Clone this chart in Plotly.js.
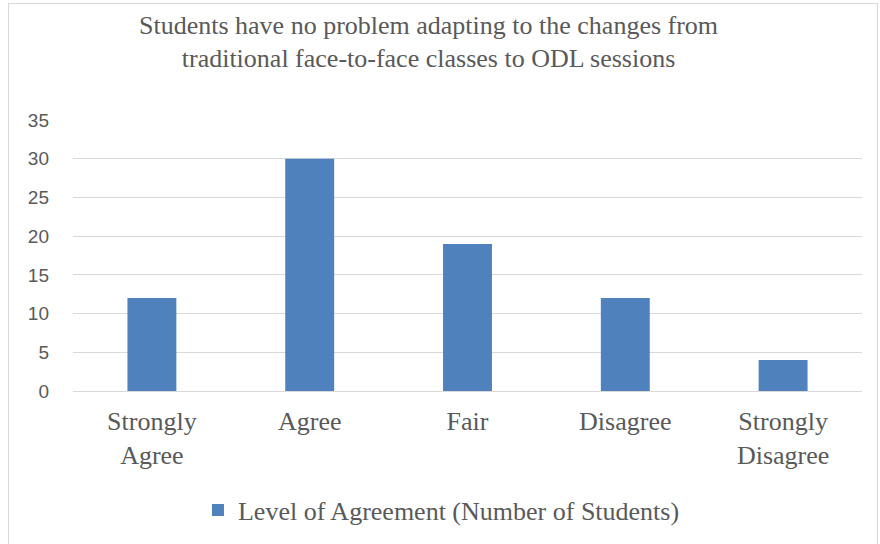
<!DOCTYPE html>
<html>
<head>
<meta charset="utf-8">
<script src="https://cdn.plot.ly/plotly-3.0.1.min.js"></script>
<style>
html,body{margin:0;padding:0;background:#fff;}
#frame{position:absolute;left:8px;top:3px;width:870px;height:560px;border:1px solid #d9d9d9;box-sizing:border-box;}
#chart{position:absolute;left:0;top:0;width:880px;height:544px;}
</style>
</head>
<body>
<div id="frame"></div>
<div id="chart"></div>
<script>
const categories = ["Strongly<br>Agree", "Agree", "Fair", "Disagree", "Strongly<br>Disagree"];
const values = [12, 30, 19, 12, 4];
const seriesName = "Level of Agreement (Number of Students)";
const yTicks = [0, 5, 10, 15, 20, 25, 30, 35];

const serif = "'Liberation Serif', 'Times New Roman', serif";
const sans = "'Liberation Sans', Arial, sans-serif";

Plotly.newPlot("chart", [{
  type: "bar",
  x: categories,
  y: values,
  name: seriesName,
  marker: {color: "#4F81BD"},
  showlegend: true,
  hoverinfo: "none"
}], {
  width: 880, height: 544,
  paper_bgcolor: "rgba(0,0,0,0)",
  plot_bgcolor: "rgba(0,0,0,0)",
  margin: {l: 73, r: 17.5, t: 120, b: 152},
  bargap: 0.69,
  title: {
    text: "Students have no problem adapting to the changes from<br>traditional face-to-face classes to ODL sessions",
    font: {family: serif, size: 26, color: "#595959"},
    x: 0.487, xanchor: "center",
    y: 1 - 33.5/544, yanchor: "middle"
  },
  xaxis: {
    tickfont: {family: serif, size: 26, color: "#595959"},
    showline: true, linecolor: "#d9d9d9", linewidth: 1,
    ticks: "", showgrid: false,
    ticklabelstandoff: 7
  },
  yaxis: {
    range: [0, 35],
    tickvals: yTicks,
    tickfont: {family: sans, size: 19, color: "#595959"},
    gridcolor: "#d9d9d9", gridwidth: 1,
    zeroline: true, zerolinecolor: "#d9d9d9",
    showline: false, ticks: "",
    ticklabelstandoff: 23
  },
  legend: {
    orientation: "h",
    x: 0.467, xanchor: "center",
    y: (392 - 510) / 272, yanchor: "middle",
    font: {family: serif, size: 26, color: "#595959"},
    itemwidth: 30
  }
}, {displayModeBar: false, staticPlot: true});
</script>
</body>
</html>
